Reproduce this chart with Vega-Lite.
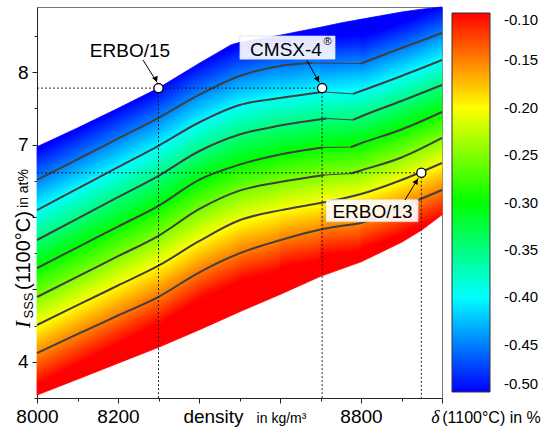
{
"$schema": "https://vega.github.io/schema/vega-lite/v6.json",
"width": 405, "height": 391,
"autosize": {"type": "none"},
"padding": {"left": 37, "top": 7, "right": 99, "bottom": 35},
"background": "white",
"config": {"view": {"stroke": "#777", "strokeWidth": 1}, "font": "Liberation Sans", "axis": {"grid": false, "labelFont": "Liberation Sans", "titleFont": "Liberation Sans"}, "legend": {"labelFont": "Liberation Sans"}},
"datasets": {
"bound": [
{"density":8000,"upper":6.97,"lower":3.54},
{"density":8100,"upper":7.23,"lower":3.76},
{"density":8200,"upper":7.5,"lower":3.98},
{"density":8300,"upper":7.78,"lower":4.2},
{"density":8400,"upper":8.12,"lower":4.44},
{"density":8480,"upper":8.38,"lower":4.64},
{"density":8500,"upper":8.41,"lower":4.69},
{"density":8600,"upper":8.51,"lower":4.93},
{"density":8700,"upper":8.62,"lower":5.18},
{"density":8750,"upper":8.68,"lower":5.28},
{"density":8800,"upper":8.73,"lower":5.38},
{"density":8900,"upper":8.83,"lower":5.65},
{"density":8950,"upper":8.87,"lower":5.82},
{"density":9000,"upper":8.9,"lower":6.03}
],
"contours": [
{"level":-0.45,"part":"L","density":8000,"Isss":6.511},{"level":-0.45,"part":"L","density":8100,"Isss":6.795},{"level":-0.45,"part":"L","density":8200,"Isss":7.081},{"level":-0.45,"part":"L","density":8300,"Isss":7.37},{"level":-0.45,"part":"L","density":8400,"Isss":7.685},{"level":-0.45,"part":"L","density":8500,"Isss":7.947},{"level":-0.45,"part":"L","density":8600,"Isss":8.085},{"level":-0.45,"part":"L","density":8680,"Isss":8.125},
{"level":-0.45,"part":"gap","density":8680,"Isss":8.125},{"level":-0.45,"part":"gap","density":8800,"Isss":8.12},
{"level":-0.45,"part":"R","density":8800,"Isss":8.12},{"level":-0.45,"part":"R","density":8900,"Isss":8.334},{"level":-0.45,"part":"R","density":9000,"Isss":8.541},
{"level":-0.4,"part":"L","density":8000,"Isss":6.096},{"level":-0.4,"part":"L","density":8100,"Isss":6.392},{"level":-0.4,"part":"L","density":8200,"Isss":6.688},{"level":-0.4,"part":"L","density":8300,"Isss":6.983},{"level":-0.4,"part":"L","density":8400,"Isss":7.305},{"level":-0.4,"part":"L","density":8500,"Isss":7.547},{"level":-0.4,"part":"L","density":8600,"Isss":7.643},{"level":-0.4,"part":"L","density":8705,"Isss":7.727},
{"level":-0.4,"part":"gap","density":8705,"Isss":7.727},{"level":-0.4,"part":"gap","density":8780,"Isss":7.7},
{"level":-0.4,"part":"R","density":8780,"Isss":7.7},{"level":-0.4,"part":"R","density":8800,"Isss":7.74},{"level":-0.4,"part":"R","density":8900,"Isss":7.947},{"level":-0.4,"part":"R","density":9000,"Isss":8.168},
{"level":-0.35,"part":"L","density":8000,"Isss":5.682},{"level":-0.35,"part":"L","density":8100,"Isss":5.978},{"level":-0.35,"part":"L","density":8200,"Isss":6.273},{"level":-0.35,"part":"L","density":8300,"Isss":6.569},{"level":-0.35,"part":"L","density":8400,"Isss":6.908},{"level":-0.35,"part":"L","density":8500,"Isss":7.139},{"level":-0.35,"part":"L","density":8600,"Isss":7.262},{"level":-0.35,"part":"L","density":8715,"Isss":7.36},
{"level":-0.35,"part":"gap","density":8715,"Isss":7.36},{"level":-0.35,"part":"gap","density":8780,"Isss":7.34},
{"level":-0.35,"part":"R","density":8780,"Isss":7.34},{"level":-0.35,"part":"R","density":8800,"Isss":7.388},{"level":-0.35,"part":"R","density":8900,"Isss":7.602},{"level":-0.35,"part":"R","density":9000,"Isss":7.823},
{"level":-0.3,"part":"L","density":8000,"Isss":5.295},{"level":-0.3,"part":"L","density":8100,"Isss":5.581},{"level":-0.3,"part":"L","density":8200,"Isss":5.868},{"level":-0.3,"part":"L","density":8300,"Isss":6.154},{"level":-0.3,"part":"L","density":8400,"Isss":6.513},{"level":-0.3,"part":"L","density":8500,"Isss":6.723},{"level":-0.3,"part":"L","density":8600,"Isss":6.863},{"level":-0.3,"part":"L","density":8705,"Isss":6.96},
{"level":-0.3,"part":"gap","density":8705,"Isss":6.96},{"level":-0.3,"part":"gap","density":8775,"Isss":6.965},
{"level":-0.3,"part":"R","density":8775,"Isss":6.965},{"level":-0.3,"part":"R","density":8800,"Isss":7.018},{"level":-0.3,"part":"R","density":8900,"Isss":7.208},{"level":-0.3,"part":"R","density":9000,"Isss":7.45},
{"level":-0.25,"part":"L","density":8000,"Isss":4.895},{"level":-0.25,"part":"L","density":8100,"Isss":5.177},{"level":-0.25,"part":"L","density":8200,"Isss":5.458},{"level":-0.25,"part":"L","density":8300,"Isss":5.74},{"level":-0.25,"part":"L","density":8400,"Isss":6.107},{"level":-0.25,"part":"L","density":8500,"Isss":6.364},{"level":-0.25,"part":"L","density":8600,"Isss":6.482},{"level":-0.25,"part":"L","density":8710,"Isss":6.58},
{"level":-0.25,"part":"gap","density":8710,"Isss":6.58},{"level":-0.25,"part":"gap","density":8775,"Isss":6.6},
{"level":-0.25,"part":"R","density":8775,"Isss":6.6},{"level":-0.25,"part":"R","density":8800,"Isss":6.643},{"level":-0.25,"part":"R","density":8900,"Isss":6.821},{"level":-0.25,"part":"R","density":9000,"Isss":7.091},
{"level":-0.2,"part":"L","density":8000,"Isss":4.508},{"level":-0.2,"part":"L","density":8100,"Isss":4.782},{"level":-0.2,"part":"L","density":8200,"Isss":5.054},{"level":-0.2,"part":"L","density":8300,"Isss":5.327},{"level":-0.2,"part":"L","density":8400,"Isss":5.665},{"level":-0.2,"part":"L","density":8500,"Isss":5.955},{"level":-0.2,"part":"L","density":8600,"Isss":6.091},{"level":-0.2,"part":"L","density":8700,"Isss":6.193},{"level":-0.2,"part":"L","density":8750,"Isss":6.248},{"level":-0.2,"part":"L","density":8800,"Isss":6.317},{"level":-0.2,"part":"L","density":8900,"Isss":6.511},{"level":-0.2,"part":"L","density":9000,"Isss":6.746},
{"level":-0.15,"part":"L","density":8000,"Isss":4.121},{"level":-0.15,"part":"L","density":8100,"Isss":4.381},{"level":-0.15,"part":"L","density":8200,"Isss":4.639},{"level":-0.15,"part":"L","density":8300,"Isss":4.898},{"level":-0.15,"part":"L","density":8400,"Isss":5.233},{"level":-0.15,"part":"L","density":8500,"Isss":5.498},{"level":-0.15,"part":"L","density":8600,"Isss":5.679},{"level":-0.15,"part":"L","density":8700,"Isss":5.827},{"level":-0.15,"part":"L","density":8750,"Isss":5.875},{"level":-0.15,"part":"L","density":8800,"Isss":5.917},{"level":-0.15,"part":"L","density":8900,"Isss":6.138},{"level":-0.15,"part":"L","density":9000,"Isss":6.373}
],
"pts": [
{"name":"ERBO/15","density":8300,"Isss":7.78},
{"name":"CMSX-4","density":8704,"Isss":7.78},
{"name":"ERBO/13","density":8949,"Isss":6.61}
],
"guides": [
{"g":"h1","density":8000,"Isss":7.78},{"g":"h1","density":8704,"Isss":7.78},
{"g":"h2","density":8000,"Isss":6.61},{"g":"h2","density":8949,"Isss":6.61},
{"g":"v1","density":8300,"Isss":7.78},{"g":"v1","density":8300,"Isss":3.5},
{"g":"v2","density":8704,"Isss":7.78},{"g":"v2","density":8704,"Isss":3.5},
{"g":"v3","density":8949,"Isss":6.61},{"g":"v3","density":8949,"Isss":3.5}
],
"labels": [
{"name":"ERBO/15","lx":8229.6,"ly":8.299},
{"name":"CMSX-4","lx":8614.8,"ly":8.313},
{"name":"ERBO/13","lx":8828.4,"ly":6.062}
],
"sup": [{"sym":"®","lx":8717.3,"ly":8.41}],
"boxes": [
{"name":"CMSX-4","bx1":8501,"bx2":8736,"by1":8.5,"by2":8.18},
{"name":"ERBO/13","bx1":8714,"bx2":8941,"by1":6.24,"by2":5.935}
],
"arrows": [
{"name":"ERBO/15","x0":8261.7,"y0":8.168,"x1":8296.8,"y1":7.857,"hx":8293.6,"hy":7.901},
{"name":"CMSX-4","x0":8665.9,"y0":8.168,"x1":8697,"y1":7.856,"hx":8693.1,"hy":7.899},
{"name":"ERBO/13","x0":8908.6,"y0":6.234,"x1":8941.2,"y1":6.535,"hx":8936.8,"hy":6.494}
]
},
"layer": [
{"data":{"name":"bound"},"transform":[{"filter":"datum.density >= 8000 && datum.density <= 8300"}],
 "mark":{"type":"area","fill":{"gradient":"linear","x1":0.5,"y1":0.1025,"x2":0.6469,"y2":0.8375,"stops":[{"offset":0,"color":"#0000ff"},{"offset":0.25,"color":"#00ffff"},{"offset":0.5,"color":"#00ff00"},{"offset":0.75,"color":"#ffff00"},{"offset":1,"color":"#ff0000"}]},"stroke":{"gradient":"linear","x1":0.5,"y1":0.1025,"x2":0.6469,"y2":0.8375,"stops":[{"offset":0,"color":"#0000ff"},{"offset":0.25,"color":"#00ffff"},{"offset":0.5,"color":"#00ff00"},{"offset":0.75,"color":"#ffff00"},{"offset":1,"color":"#ff0000"}]},"strokeWidth":0.8},
 "encoding":{
  "x":{"field":"density","type":"quantitative","scale":{"domain":[8000,9000],"nice":false,"zero":false},
   "axis":{"orient":"bottom","values":[8000,8200,8400,8600,8800,9000],"format":"d","labelExpr":"indexof([8000,8200,8800], datum.value) >= 0 ? datum.label : ''","labelFlush":false,"labelOverlap":false,"labelFontSize":19,"labelColor":"#000","labelPadding":4,"tickSize":5,"tickColor":"#222","domainColor":"#222","title":"density","titleFontSize":19,"titleFontWeight":"normal","titleColor":"#000","titleX":176,"titleY":24,"titleAlign":"center","titleBaseline":"alphabetic"}},
  "y":{"field":"upper","type":"quantitative","scale":{"domain":[3.5,8.9],"nice":false,"zero":false},
   "axis":{"orient":"left","values":[4,5,6,7,8],"labelExpr":"indexof([4,7,8], datum.value) >= 0 ? datum.label : ''","labelFlush":false,"labelOverlap":false,"labelFontSize":19,"labelColor":"#000","labelPadding":4,"tickSize":5,"tickColor":"#222","domainColor":"#222","title":"(1100°C)","titleFontSize":20,"titleFontWeight":"normal","titleColor":"#000","titleX":-8,"titleY":243,"titleAngle":270,"titleAlign":"center","titleBaseline":"alphabetic"}},
  "y2":{"field":"lower"}}},
{"data":{"name":"bound"},"transform":[{"filter":"datum.density >= 8300 && datum.density <= 8400"}],
 "mark":{"type":"area","fill":{"gradient":"linear","x1":0.5,"y1":0.0408,"x2":0.572,"y2":0.8721,"stops":[{"offset":0,"color":"#0000ff"},{"offset":0.25,"color":"#00ffff"},{"offset":0.5,"color":"#00ff00"},{"offset":0.75,"color":"#ffff00"},{"offset":1,"color":"#ff0000"}]},"stroke":{"gradient":"linear","x1":0.5,"y1":0.0408,"x2":0.572,"y2":0.8721,"stops":[{"offset":0,"color":"#0000ff"},{"offset":0.25,"color":"#00ffff"},{"offset":0.5,"color":"#00ff00"},{"offset":0.75,"color":"#ffff00"},{"offset":1,"color":"#ff0000"}]},"strokeWidth":0.8},
 "encoding":{
  "x":{"field":"density","type":"quantitative","scale":{"domain":[8000,9000],"nice":false,"zero":false},
   "axis":{"orient":"bottom","values":[8100,8300,8500,8700,8900],"labels":false,"domain":false,"tickSize":3,"tickColor":"#222","title":"in kg/m³","titleFontSize":14,"titleFontWeight":"normal","titleColor":"#000","titleX":244,"titleY":24,"titleAlign":"center","titleBaseline":"alphabetic"}},
  "y":{"field":"upper","type":"quantitative","scale":{"domain":[3.5,8.9],"nice":false,"zero":false},
   "axis":{"orient":"left","values":[3.5,4.5,5.5,6.5,7.5,8.5],"labels":false,"domain":false,"tickSize":3,"tickColor":"#222","title":"SSS","titleFontSize":13,"titleFontWeight":"normal","titleColor":"#000","titleX":-5,"titleY":298,"titleAngle":270,"titleAlign":"center","titleBaseline":"alphabetic"}},
  "y2":{"field":"lower"}}},
{"data":{"name":"bound"},"transform":[{"filter":"datum.density >= 8400 && datum.density <= 8500"}],
 "mark":{"type":"area","fill":{"gradient":"linear","x1":0.5,"y1":0.041,"x2":0.5518,"y2":0.8607,"stops":[{"offset":0,"color":"#0000ff"},{"offset":0.25,"color":"#00ffff"},{"offset":0.5,"color":"#00ff00"},{"offset":0.75,"color":"#ffff00"},{"offset":1,"color":"#ff0000"}]},"stroke":{"gradient":"linear","x1":0.5,"y1":0.041,"x2":0.5518,"y2":0.8607,"stops":[{"offset":0,"color":"#0000ff"},{"offset":0.25,"color":"#00ffff"},{"offset":0.5,"color":"#00ff00"},{"offset":0.75,"color":"#ffff00"},{"offset":1,"color":"#ff0000"}]},"strokeWidth":0.8},
 "encoding":{
  "x":{"field":"density","type":"quantitative","scale":{"domain":[8000,9000],"nice":false,"zero":false},
   "axis":{"orient":"bottom","values":[8000],"labels":false,"ticks":false,"domain":false,"title":"(1100°C) in %","titleFontSize":16,"titleFontWeight":"normal","titleColor":"#000","titleX":454,"titleY":24,"titleAlign":"center","titleBaseline":"alphabetic"}},
  "y":{"field":"upper","type":"quantitative","scale":{"domain":[3.5,8.9],"nice":false,"zero":false},
   "axis":{"orient":"left","values":[4],"labels":false,"ticks":false,"domain":false,"title":"I","titleFont":"Liberation Serif","titleFontSize":22,"titleFontStyle":"italic","titleFontWeight":"normal","titleColor":"#000","titleX":-8,"titleY":317,"titleAngle":270,"titleAlign":"center","titleBaseline":"alphabetic"}},
  "y2":{"field":"lower"}}},
{"data":{"name":"bound"},"transform":[{"filter":"datum.density >= 8500 && datum.density <= 8600"}],
 "mark":{"type":"area","fill":{"gradient":"linear","x1":0.5,"y1":0.0227,"x2":0.5295,"y2":0.8688,"stops":[{"offset":0,"color":"#0000ff"},{"offset":0.25,"color":"#00ffff"},{"offset":0.5,"color":"#00ff00"},{"offset":0.75,"color":"#ffff00"},{"offset":1,"color":"#ff0000"}]},"stroke":{"gradient":"linear","x1":0.5,"y1":0.0227,"x2":0.5295,"y2":0.8688,"stops":[{"offset":0,"color":"#0000ff"},{"offset":0.25,"color":"#00ffff"},{"offset":0.5,"color":"#00ff00"},{"offset":0.75,"color":"#ffff00"},{"offset":1,"color":"#ff0000"}]},"strokeWidth":0.8},
 "encoding":{
  "x":{"field":"density","type":"quantitative","scale":{"domain":[8000,9000],"nice":false,"zero":false},
   "axis":{"orient":"bottom","values":[8000],"labels":false,"ticks":false,"domain":false,"title":"δ","titleFont":"Liberation Serif","titleFontSize":18,"titleFontStyle":"italic","titleFontWeight":"normal","titleColor":"#000","titleX":398,"titleY":24,"titleAlign":"center","titleBaseline":"alphabetic"}},
  "y":{"field":"upper","type":"quantitative","scale":{"domain":[3.5,8.9],"nice":false,"zero":false},
   "axis":{"orient":"left","values":[4],"labels":false,"ticks":false,"domain":false,"title":"in at%","titleFontSize":14,"titleFontWeight":"normal","titleColor":"#000","titleX":-10,"titleY":181,"titleAngle":270,"titleAlign":"center","titleBaseline":"alphabetic"}},
  "y2":{"field":"lower"}}},
{"data":{"name":"bound"},"transform":[{"filter":"datum.density >= 8600 && datum.density <= 8700"}],
 "mark":{"type":"area","fill":{"gradient":"linear","x1":0.5,"y1":0.0356,"x2":0.5219,"y2":0.885,"stops":[{"offset":0,"color":"#0000ff"},{"offset":0.25,"color":"#00ffff"},{"offset":0.5,"color":"#00ff00"},{"offset":0.75,"color":"#ffff00"},{"offset":1,"color":"#ff0000"}]},"stroke":{"gradient":"linear","x1":0.5,"y1":0.0356,"x2":0.5219,"y2":0.885,"stops":[{"offset":0,"color":"#0000ff"},{"offset":0.25,"color":"#00ffff"},{"offset":0.5,"color":"#00ff00"},{"offset":0.75,"color":"#ffff00"},{"offset":1,"color":"#ff0000"}]},"strokeWidth":0.8},
 "encoding":{
  "x":{"field":"density","type":"quantitative","scale":{"domain":[8000,9000],"nice":false,"zero":false},"axis":null},
  "y":{"field":"upper","type":"quantitative","scale":{"domain":[3.5,8.9],"nice":false,"zero":false},"axis":null},
  "y2":{"field":"lower"}}},
{"data":{"name":"bound"},"transform":[{"filter":"datum.density >= 8700 && datum.density <= 8800"}],
 "mark":{"type":"area","fill":{"gradient":"linear","x1":0.5,"y1":0.0663,"x2":0.5126,"y2":0.9114,"stops":[{"offset":0,"color":"#0000ff"},{"offset":0.25,"color":"#00ffff"},{"offset":0.5,"color":"#00ff00"},{"offset":0.75,"color":"#ffff00"},{"offset":1,"color":"#ff0000"}]},"stroke":{"gradient":"linear","x1":0.5,"y1":0.0663,"x2":0.5126,"y2":0.9114,"stops":[{"offset":0,"color":"#0000ff"},{"offset":0.25,"color":"#00ffff"},{"offset":0.5,"color":"#00ff00"},{"offset":0.75,"color":"#ffff00"},{"offset":1,"color":"#ff0000"}]},"strokeWidth":0.8},
 "encoding":{
  "x":{"field":"density","type":"quantitative","scale":{"domain":[8000,9000],"nice":false,"zero":false},"axis":null},
  "y":{"field":"upper","type":"quantitative","scale":{"domain":[3.5,8.9],"nice":false,"zero":false},"axis":null},
  "y2":{"field":"lower"}}},
{"data":{"name":"bound"},"transform":[{"filter":"datum.density >= 8800 && datum.density <= 8900"}],
 "mark":{"type":"area","fill":{"gradient":"linear","x1":0.5,"y1":0.0702,"x2":0.5497,"y2":0.9171,"stops":[{"offset":0,"color":"#0000ff"},{"offset":0.25,"color":"#00ffff"},{"offset":0.5,"color":"#00ff00"},{"offset":0.75,"color":"#ffff00"},{"offset":1,"color":"#ff0000"}]},"stroke":{"gradient":"linear","x1":0.5,"y1":0.0702,"x2":0.5497,"y2":0.9171,"stops":[{"offset":0,"color":"#0000ff"},{"offset":0.25,"color":"#00ffff"},{"offset":0.5,"color":"#00ff00"},{"offset":0.75,"color":"#ffff00"},{"offset":1,"color":"#ff0000"}]},"strokeWidth":0.8},
 "encoding":{
  "x":{"field":"density","type":"quantitative","scale":{"domain":[8000,9000],"nice":false,"zero":false},"axis":null},
  "y":{"field":"upper","type":"quantitative","scale":{"domain":[3.5,8.9],"nice":false,"zero":false},"axis":null},
  "y2":{"field":"lower"}}},
{"data":{"name":"bound"},"transform":[{"filter":"datum.density >= 8900 && datum.density <= 9000"}],
 "mark":{"type":"area","fill":{"gradient":"linear","x1":0.5,"y1":0.0326,"x2":0.5638,"y2":0.9235,"stops":[{"offset":0,"color":"#0000ff"},{"offset":0.25,"color":"#00ffff"},{"offset":0.5,"color":"#00ff00"},{"offset":0.75,"color":"#ffff00"},{"offset":1,"color":"#ff0000"}]},"stroke":{"gradient":"linear","x1":0.5,"y1":0.0326,"x2":0.5638,"y2":0.9235,"stops":[{"offset":0,"color":"#0000ff"},{"offset":0.25,"color":"#00ffff"},{"offset":0.5,"color":"#00ff00"},{"offset":0.75,"color":"#ffff00"},{"offset":1,"color":"#ff0000"}]},"strokeWidth":0.8},
 "encoding":{
  "x":{"field":"density","type":"quantitative","scale":{"domain":[8000,9000],"nice":false,"zero":false},"axis":null},
  "y":{"field":"upper","type":"quantitative","scale":{"domain":[3.5,8.9],"nice":false,"zero":false},"axis":null},
  "y2":{"field":"lower"}}},
{"data":{"name":"contours"},"transform":[{"filter":"datum.part != 'gap'"}],
 "mark":{"type":"line","color":"#3f3f3f","strokeWidth":2,"interpolate":"monotone"},
 "encoding":{
  "x":{"field":"density","type":"quantitative","scale":{"domain":[8000,9000],"nice":false,"zero":false},"axis":null},
  "y":{"field":"Isss","type":"quantitative","scale":{"domain":[3.5,8.9],"nice":false,"zero":false},"axis":null},
  "detail":[{"field":"level","type":"nominal"},{"field":"part","type":"nominal"}]}},
{"data":{"name":"contours"},"transform":[{"filter":"datum.part == 'gap'"}],
 "mark":{"type":"line","color":"#444","strokeWidth":1},
 "encoding":{
  "x":{"field":"density","type":"quantitative","scale":{"domain":[8000,9000],"nice":false,"zero":false},"axis":null},
  "y":{"field":"Isss","type":"quantitative","scale":{"domain":[3.5,8.9],"nice":false,"zero":false},"axis":null},
  "detail":{"field":"level","type":"nominal"}}},
{"data":{"name":"guides"},
 "mark":{"type":"line","color":"#111","strokeWidth":0.9,"strokeDash":[2,2]},
 "encoding":{
  "x":{"field":"density","type":"quantitative","scale":{"domain":[8000,9000],"nice":false,"zero":false},"axis":null},
  "y":{"field":"Isss","type":"quantitative","scale":{"domain":[3.5,8.9],"nice":false,"zero":false},"axis":null},
  "detail":{"field":"g","type":"nominal"}}},
{"data":{"name":"boxes"},
 "mark":{"type":"rect","fill":"#ffffff","fillOpacity":0.9,"stroke":"#d8d8e0","strokeWidth":0.6},
 "encoding":{
  "x":{"field":"bx1","type":"quantitative","scale":{"domain":[8000,9000],"nice":false,"zero":false},"axis":null},
  "x2":{"field":"bx2"},
  "y":{"field":"by1","type":"quantitative","scale":{"domain":[3.5,8.9],"nice":false,"zero":false},"axis":null},
  "y2":{"field":"by2"}}},
{"data":{"name":"arrows"},
 "mark":{"type":"rule","color":"#000","strokeWidth":1},
 "encoding":{
  "x":{"field":"x0","type":"quantitative","scale":{"domain":[8000,9000],"nice":false,"zero":false},"axis":null},
  "x2":{"field":"x1"},
  "y":{"field":"y0","type":"quantitative","scale":{"domain":[3.5,8.9],"nice":false,"zero":false},"axis":null},
  "y2":{"field":"y1"}}},
{"data":{"name":"arrows"},"transform":[{"filter":"datum.name == 'ERBO/15'"}],
 "mark":{"type":"point","shape":"triangle-down","filled":true,"color":"#000","size":38,"angle":337.7,"opacity":1},
 "encoding":{
  "x":{"field":"hx","type":"quantitative","scale":{"domain":[8000,9000],"nice":false,"zero":false},"axis":null},
  "y":{"field":"hy","type":"quantitative","scale":{"domain":[3.5,8.9],"nice":false,"zero":false},"axis":null}}},
{"data":{"name":"arrows"},"transform":[{"filter":"datum.name == 'CMSX-4'"}],
 "mark":{"type":"point","shape":"triangle-down","filled":true,"color":"#000","size":38,"angle":333.4,"opacity":1},
 "encoding":{
  "x":{"field":"hx","type":"quantitative","scale":{"domain":[8000,9000],"nice":false,"zero":false},"axis":null},
  "y":{"field":"hy","type":"quantitative","scale":{"domain":[3.5,8.9],"nice":false,"zero":false},"axis":null}}},
{"data":{"name":"arrows"},"transform":[{"filter":"datum.name == 'ERBO/13'"}],
 "mark":{"type":"point","shape":"triangle-up","filled":true,"color":"#000","size":38,"angle":30.7,"opacity":1},
 "encoding":{
  "x":{"field":"hx","type":"quantitative","scale":{"domain":[8000,9000],"nice":false,"zero":false},"axis":null},
  "y":{"field":"hy","type":"quantitative","scale":{"domain":[3.5,8.9],"nice":false,"zero":false},"axis":null}}},
{"data":{"name":"pts"},
 "mark":{"type":"point","shape":"circle","filled":true,"fill":"#ffffff","stroke":"#000","strokeWidth":1.3,"size":85,"opacity":1},
 "encoding":{
  "x":{"field":"density","type":"quantitative","scale":{"domain":[8000,9000],"nice":false,"zero":false},"axis":null},
  "y":{"field":"Isss","type":"quantitative","scale":{"domain":[3.5,8.9],"nice":false,"zero":false},"axis":null}}},
{"data":{"name":"labels"},
 "mark":{"type":"text","font":"Liberation Sans","fontSize":19,"color":"#000","align":"center","baseline":"middle"},
 "encoding":{
  "x":{"field":"lx","type":"quantitative","scale":{"domain":[8000,9000],"nice":false,"zero":false},"axis":null},
  "y":{"field":"ly","type":"quantitative","scale":{"domain":[3.5,8.9],"nice":false,"zero":false},"axis":null},
  "text":{"field":"name"}}},
{"data":{"name":"sup"},
 "mark":{"type":"text","font":"Liberation Sans","fontSize":11,"color":"#000","align":"center","baseline":"middle"},
 "encoding":{
  "x":{"field":"lx","type":"quantitative","scale":{"domain":[8000,9000],"nice":false,"zero":false},"axis":null},
  "y":{"field":"ly","type":"quantitative","scale":{"domain":[3.5,8.9],"nice":false,"zero":false},"axis":null},
  "text":{"field":"sym"}}},
{"data":{"name":"contours"},
 "mark":{"type":"point","size":0,"strokeWidth":0,"filled":true,"opacity":1},
 "encoding":{
  "x":{"field":"density","type":"quantitative","scale":{"domain":[8000,9000],"nice":false,"zero":false},"axis":null},
  "y":{"field":"Isss","type":"quantitative","scale":{"domain":[3.5,8.9],"nice":false,"zero":false},"axis":null},
  "color":{"field":"level","type":"quantitative","scale":{"domain":[-0.5,-0.1],"range":["#0000ff","#00ffff","#00ff00","#ffff00","#ff0000"],"interpolate":"rgb"},
   "legend":{"orient":"none","legendX":415,"legendY":6,"direction":"vertical","gradientLength":379,"gradientThickness":38,"gradientStrokeColor":"#333","gradientStrokeWidth":1,"labelFontSize":15,"labelColor":"#000","labelOffset":14,"values":[-0.5,-0.45,-0.4,-0.35,-0.3,-0.25,-0.2,-0.15,-0.1],"labelExpr":"'-' + format(abs(datum.value), '.2f')","labelOverlap":false,"labelBaseline":"middle","title":null,"padding":0}}}}
],
"resolve": {"axis": {"x": "independent", "y": "independent"}}
}
